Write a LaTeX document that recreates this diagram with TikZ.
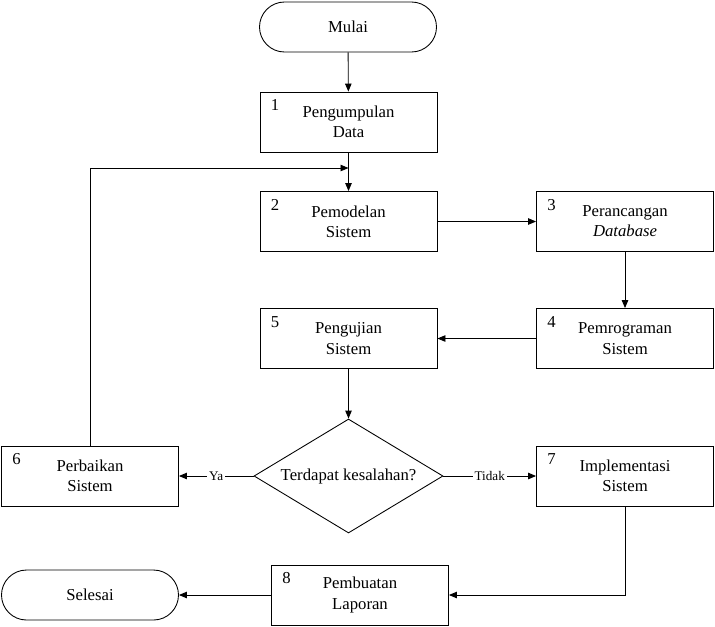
\documentclass[tikz,border=0pt]{standalone}
\usepackage{fontspec}
\setmainfont{Liberation Serif}
\usepackage{tikz}
\usetikzlibrary{shapes.geometric, arrows.meta, positioning, calc}

\tikzset{
    prosesbox/.style={draw, line width=0.5pt, minimum width=3.54cm, minimum height=1.2cm, align=center, font=\fontsize{9.5}{11.5}\selectfont},
    terminal/.style={draw, line width=0.5pt, rounded corners=0.5cm, minimum width=3.54cm, minimum height=1cm, font=\fontsize{9.5}{11.5}\selectfont},
    keputusan/.style={draw, line width=0.5pt, diamond, aspect=1.66, inner sep=0pt, minimum width=3.78cm, minimum height=2.28cm, font=\fontsize{9.5}{11.5}\selectfont},
    nomor/.style={font=\fontsize{9.5}{11.5}\selectfont, anchor=north west},
    panah/.style={line width=0.5pt, -{Triangle[length=1.6mm, width=1.3mm]}},
    cabang/.style={fill=white, inner sep=1pt, font=\fontsize{7.5}{9}\selectfont}
}

\begin{document}
\begin{tikzpicture}
    \useasboundingbox (0,0) rectangle (14.3,-12.52);

    % Start
    \node[terminal] (mulai) at (6.96,-0.54) {Mulai};

    % Process boxes
    \node[prosesbox] (b1) at (6.97,-2.44) {Pengumpulan\\Data};
    \node[prosesbox] (b2) at (6.97,-4.43) {Pemodelan\\Sistem};
    \node[prosesbox] (b3) at (12.5,-4.43) {Perancangan\\\textit{Database}};
    \node[prosesbox] (b4) at (12.5,-6.77) {Pemrograman\\Sistem};
    \node[prosesbox] (b5) at (6.97,-6.77) {Pengujian\\Sistem};
    \node[keputusan] (cek) at (6.97,-9.52) {Terdapat kesalahan?};
    \node[prosesbox] (b6) at (1.8,-9.52) {Perbaikan\\Sistem};
    \node[prosesbox] (b7) at (12.5,-9.52) {Implementasi\\Sistem};
    \node[prosesbox] (b8) at (7.2,-11.9) {Pembuatan\\Laporan};

    % End
    \node[terminal] (selesai) at (1.8,-11.9) {Selesai};

    % Step numbers
    \node[nomor] (n1) at ($(b1.north west)+(0.1,-0.04)$) {1};
    \node[nomor] (n2) at ($(b2.north west)+(0.1,-0.04)$) {2};
    \node[nomor] (n3) at ($(b3.north west)+(0.1,-0.04)$) {3};
    \node[nomor] (n4) at ($(b4.north west)+(0.1,-0.04)$) {4};
    \node[nomor] (n5) at ($(b5.north west)+(0.1,-0.04)$) {5};
    \node[nomor] (n6) at ($(b6.north west)+(0.1,-0.04)$) {6};
    \node[nomor] (n7) at ($(b7.north west)+(0.1,-0.04)$) {7};
    \node[nomor] (n8) at ($(b8.north west)+(0.1,-0.04)$) {8};

    % Connectors
    \coordinate (gabung) at (6.97,-3.36);
    \draw[panah] (mulai) -- (b1);
    \draw[panah] (b1) -- (b2);
    \draw[panah] (b6.north) |- (gabung);
    \draw[panah] (b2) -- (b3);
    \draw[panah] (b3) -- (b4);
    \draw[panah] (b4) -- (b5);
    \draw[panah] (b5) -- (cek);
    \draw[panah] (cek) -- node[cabang] {Ya} (b6);
    \draw[panah] (cek) -- node[cabang] {Tidak} (b7);
    \draw[panah] (b7.south) |- (b8.east);
    \draw[panah] (b8) -- (selesai);

\end{tikzpicture}
\end{document}
